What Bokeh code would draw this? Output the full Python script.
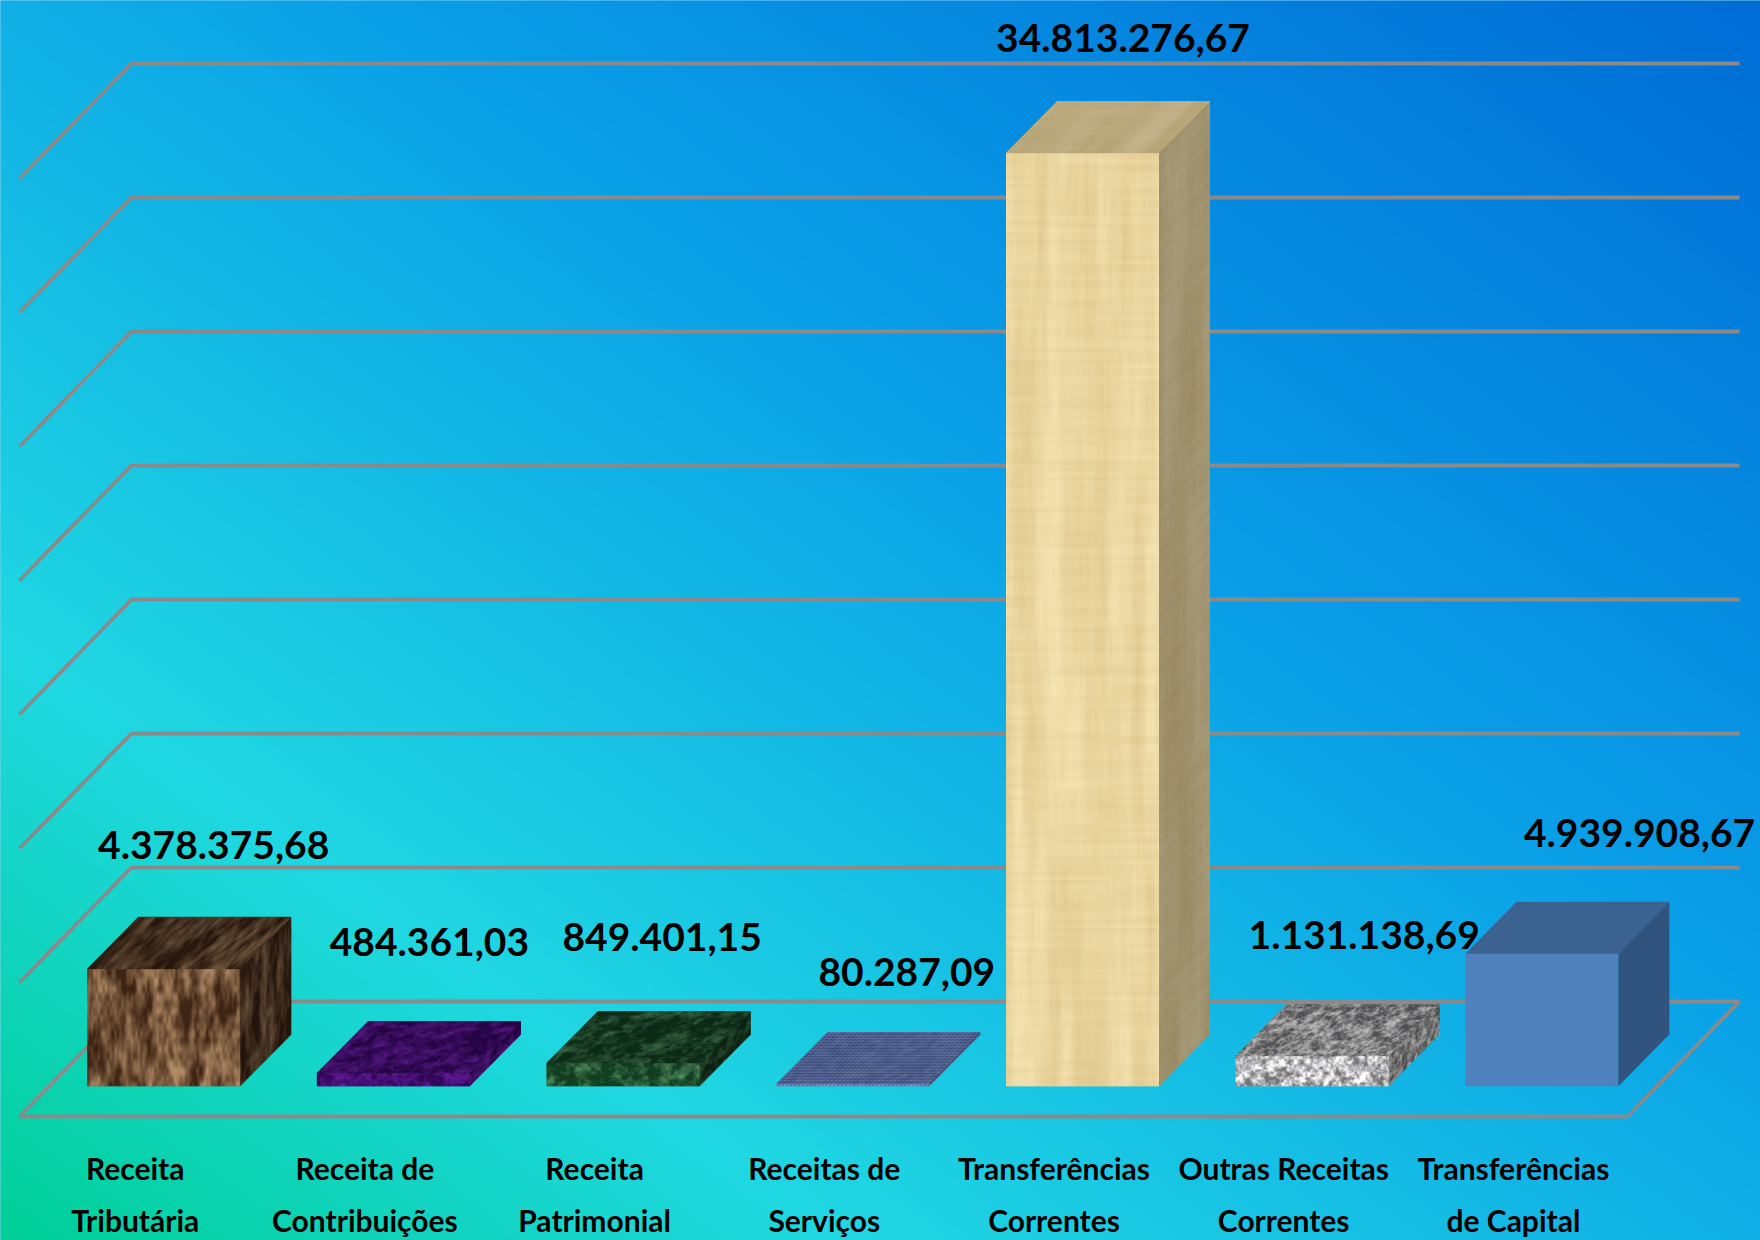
import numpy as np
from bokeh.plotting import figure
from bokeh.models import ColumnDataSource, Range1d
from bokeh.core.properties import value
from bokeh.embed import file_html
from bokeh.resources import INLINE

# ---- data ----
line1 = ["Receita", "Receita de", "Receita", "Receitas de", "Transferências", "Outras Receitas", "Transferências"]
line2 = ["Tributária", "Contribuições", "Patrimonial", "Serviços", "Correntes", "Correntes", "de Capital"]
values = [4378375.68, 484361.03, 849401.15, 80287.09, 34813276.67, 1131138.69, 4939908.67]
value_labels = ["4.378.375,68", "484.361,03", "849.401,15", "80.287,09", "34.813.276,67", "1.131.138,69", "4.939.908,67"]
gridline_values = [0, 5e6, 10e6, 15e6, 20e6, 25e6, 30e6, 35e6]

# ---- layout (pixels of the 1760x1240 page) ----
W, H = 1760, 1240
PX_PER_CAT = 229.7
PX_PER_VAL = 134.0 / 5e6
X0_PX = 134.7          # category 0
Y0_PX = 1085.7         # value 0 at the bars' front base
cat = lambda px: px / PX_PER_CAT
val = lambda px: px / PX_PER_VAL

BAR_LEFT, BAR_W = 86.7 - X0_PX, 153.0
DEPTH_X, DEPTH_Y = 51.0, 52.0
label_dx = [50, 36, 39, 54, 40.5, 52, 97.6]
label_gap = [56, 63, 58, 44, 47, 53, 53]
VALUE_BASE_FIX = 16.0   # the text glyph draws this far below the requested baseline
CAT_BASE_FIX = 12.5

p = figure(width=W, height=H, output_backend="svg", toolbar_location=None, min_border=0,
           x_range=Range1d(-X0_PX / PX_PER_CAT, (W - X0_PX) / PX_PER_CAT),
           y_range=Range1d(-(H - Y0_PX) / PX_PER_VAL, Y0_PX / PX_PER_VAL))
p.axis.visible = False
p.grid.visible = False
p.outline_line_color = None
p.background_fill_color = "#10a8e0"
p.border_fill_color = "#10a8e0"

# ---- background gradient (drawn a little past the frame so its edge never shows) ----
gh, gw = 620, 880
PAD = 6.0
yy, xx = np.mgrid[0:gh, 0:gw]
# t = 0 at bottom-left (row 0 is the bottom), 1 at top-right
t = (xx / (gw - 1) + yy / (gh - 1)) / 2
stops = [0.0, 0.24, 0.6, 1.0]
cols = [(0, 208, 150), (32, 216, 226), (10, 160, 232), (0, 108, 214)]
bg = np.zeros((gh, gw, 4), dtype=np.uint8)
for k in range(3):
    bg[..., k] = np.interp(t, stops, [c[k] for c in cols])
bg[..., 3] = 255
bg_img = bg.view(np.uint32).reshape(gh, gw)
p.image_rgba(image=[bg_img], x=(-X0_PX - PAD) / PX_PER_CAT, y=-(H - Y0_PX + PAD) / PX_PER_VAL,
             dw=(W + 2 * PAD) / PX_PER_CAT, dh=(H + 2 * PAD) / PX_PER_VAL)

# ---- wall and floor lines ----
FL_L, FL_R = 19.0 - X0_PX, 131.0 - X0_PX      # left wall, front and back
BK_R, FR_R = 1739.0 - X0_PX, 1627.0 - X0_PX
BK_UP, FR_DN = Y0_PX - 1001.0, 1116.0 - Y0_PX
GRID = "#8a8a8a"
for g in gridline_values:
    xs = [cat(FL_L), cat(FL_R), cat(BK_R)]
    ys = [g - val(FR_DN), g + val(BK_UP), g + val(BK_UP)]
    p.line(xs, ys, line_color=GRID, line_width=3.8)
p.line([cat(BK_R), cat(FR_R), cat(FL_L)],
       [val(BK_UP), -val(FR_DN), -val(FR_DN)], line_color=GRID, line_width=3.8)


# ---- procedural surface textures (decoration only) ----
def vnoise(u, v, seed):
    i, j = np.floor(u), np.floor(v)
    fu, fv = u - i, v - j
    fu, fv = fu * fu * (3 - 2 * fu), fv * fv * (3 - 2 * fv)

    def h(a, b):
        s = np.sin(a * 127.1 + b * 311.7 + seed * 74.7) * 43758.5453
        return s - np.floor(s)
    return ((h(i, j) * (1 - fu) + h(i + 1, j) * fu) * (1 - fv)
            + (h(i, j + 1) * (1 - fu) + h(i + 1, j + 1) * fu) * fv)


def fbm(u, v, sx, sy, seed):
    return (0.4 * vnoise(u / sx, v / sy, seed)
            + 0.35 * vnoise(u / sx * 2.3, v / sy * 2.3, seed + 3)
            + 0.25 * vnoise(u / sx * 5.1, v / sy * 5.1, seed + 7))


def wood(u, v, seed):
    return (0.55 * vnoise(u / 12, v / 170, seed) + 0.2 * vnoise(u / 3, v / 40, seed + 1)
            + 0.25 * vnoise(u / 70, v / 4, seed + 2))


def weave(u, v, seed):
    return (0.5 + 0.22 * np.sin(u * 1.6) + 0.22 * np.sin(v * 1.6)) * 0.8 + 0.2 * vnoise(u / 6, v / 6, seed)


styles = [
    dict(dark=(62, 36, 20), light=(176, 138, 100), fn=lambda u, v, s: np.clip((fbm(u, v, 12, 38, s) - 0.3) * 2.0, 0, 1),
         front=1.0, top=0.62, side=0.58),
    dict(dark=(46, 6, 82), light=(105, 30, 160), fn=lambda u, v, s: np.clip((fbm(u, v, 12, 10, s) - 0.3) * 2.0, 0, 1),
         front=1.05, top=0.82, side=0.75),
    dict(dark=(16, 56, 30), light=(100, 160, 110), fn=lambda u, v, s: np.clip((fbm(u, v, 12, 10, s) - 0.38) * 1.6, 0, 1),
         front=1.1, top=0.78, side=0.62),
    dict(dark=(40, 60, 125), light=(150, 170, 215), fn=weave, front=1.0, top=0.82, side=0.7),
    dict(dark=(222, 198, 138), light=(248, 232, 185), fn=wood, front=1.0, top=0.8, side=0.68),
    dict(dark=(95, 95, 98), light=(225, 225, 225), fn=lambda u, v, s: np.clip((fbm(u, v, 6, 6, s) - 0.28) * 2.2, 0, 1),
         front=1.2, top=0.82, side=0.72),
    None,
]
flat_colors = [  # base colours under the textures: front, top, side
    ("#7d5636", "#4a2f1a", "#3f2814"), ("#4a0a80", "#3c0a6c", "#320a5a"), ("#2a6a3e", "#1d4a2c", "#183f26"),
    ("#5f78b0", "#4d6296", "#44578a"), ("#ecd8a4", "#bda673", "#a48f64"), ("#b8b8b8", "#8c8c8c", "#767676"),
    ("#4f81bd", "#3c6290", "#31547e"),
]

# ---- bars ----
xf = [i + cat(BAR_LEFT) for i in range(7)]
xf2 = [x + cat(BAR_W) for x in xf]
dxc, dyv = cat(DEPTH_X), val(DEPTH_Y)
p.quad(left=xf, right=xf2, bottom=[0] * 7, top=values, fill_color=[c[0] for c in flat_colors], line_color=None)
p.patches(xs=[[a, b, b + dxc, a + dxc] for a, b in zip(xf, xf2)],
          ys=[[v, v, v + dyv, v + dyv] for v in values],
          fill_color=[c[1] for c in flat_colors], line_color=None)
p.patches(xs=[[b, b + dxc, b + dxc, b] for b in xf2],
          ys=[[0, dyv, v + dyv, v] for v in values],
          fill_color=[c[2] for c in flat_colors], line_color=None)

for i, (v, st) in enumerate(zip(values, styles)):
    if st is None:
        continue
    bw, dx, dy = int(BAR_W), int(DEPTH_X), int(DEPTH_Y)
    bh = max(2, int(round(v * PX_PER_VAL)))
    ih, iw = bh + dy, bw + dx
    yy, xx = np.mgrid[0:ih, 0:iw].astype(float)        # row 0 at the bottom
    xx += 0.5
    yy += 0.5
    rgba = np.zeros((ih, iw, 4), dtype=np.uint8)
    dark, light = np.array(st["dark"], float), np.array(st["light"], float)
    slope = DEPTH_Y / DEPTH_X
    front = (xx < bw) & (yy < bh)
    side = (xx >= bw) & (yy >= (xx - bw) * slope) & (yy < bh + (xx - bw) * slope)
    top = (yy >= bh) & (xx < bw + (yy - bh) / slope) & (xx >= (yy - bh) / slope) & ~side
    for mask, uu, vv, key, sd in [
        (front, xx, yy, "front", 11.0 + i),
        (top, xx - (yy - bh) / slope, (yy - bh) * 1.4, "top", 31.0 + i),
        (side, (xx - bw) * 1.5, yy - (xx - bw) * slope, "side", 51.0 + i),
    ]:
        n = st["fn"](uu, vv, sd)
        for k in range(3):
            rgba[..., k][mask] = np.clip((dark[k] + (light[k] - dark[k]) * n[mask]) * st[key], 0, 255)
        rgba[..., 3][mask] = 255
    p.image_rgba(image=[rgba.view(np.uint32).reshape(ih, iw)], x=xf[i], y=0,
                 dw=iw * 1.0 / PX_PER_CAT, dh=ih * 1.0 / PX_PER_VAL)

# ---- texts ----
FONT = value("Lato")
labels = ColumnDataSource(dict(x=list(range(7)), y=values, t=value_labels,
                               xo=[d + BAR_LEFT + BAR_W / 2 for d in label_dx],
                               yo=[-(DEPTH_Y + g + VALUE_BASE_FIX) for g in label_gap]))
p.text("x", "y", text="t", source=labels, x_offset="xo", y_offset="yo", text_font=FONT,
       text_font_style="bold", text_font_size="39px", text_align="center",
       text_baseline="alphabetic", text_color="#000000")

for rows, px in ((line1, 1180.0), (line2, 1232.0)):
    p.text(list(range(7)), [(Y0_PX - px + CAT_BASE_FIX) / PX_PER_VAL] * 7, text=rows, text_font=FONT,
           text_font_style="bold", text_font_size="30px", text_align="center",
           text_baseline="alphabetic", text_color="#000000")

open("out.html", "w").write(file_html(p, INLINE))
